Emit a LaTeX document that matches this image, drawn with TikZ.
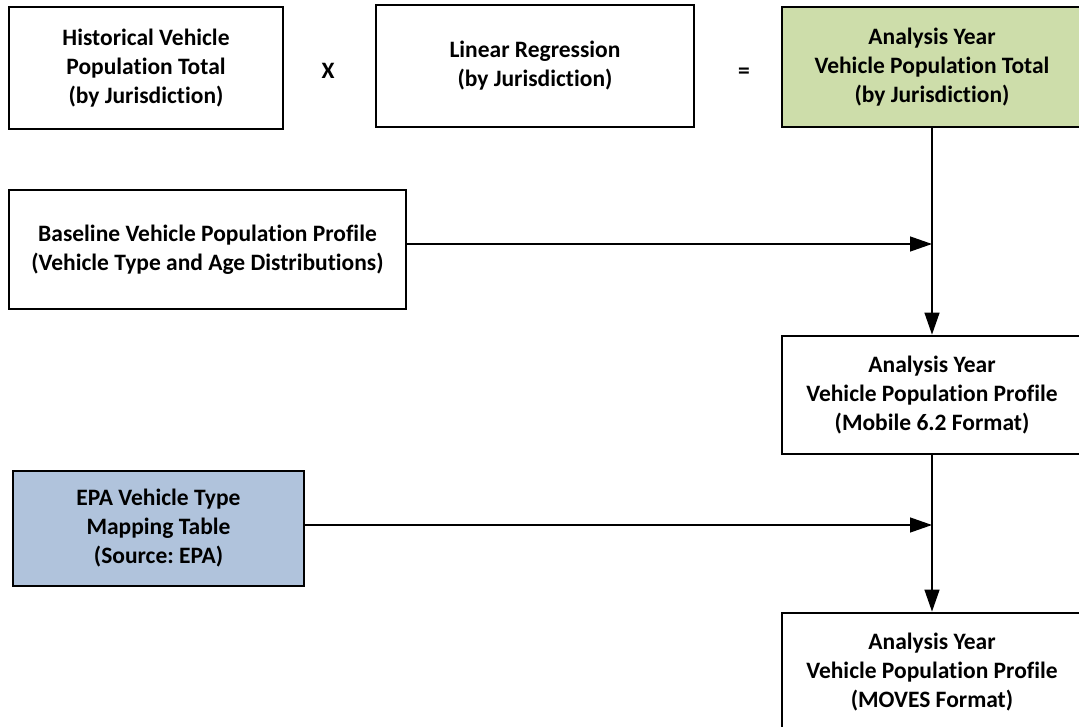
\documentclass[tikz,border=0pt]{standalone}
\usepackage{fontspec}
\setmainfont{Carlito}[Ligatures=NoCommon]
\usetikzlibrary{arrows.meta}
\frenchspacing
\definecolor{totalgreen}{RGB}{205,221,170}
\definecolor{epablue}{RGB}{176,195,220}
\tikzset{
  blk/.style={draw, line width=2.8pt, align=center, inner sep=0pt,
    font=\fontsize{23.5}{29}\selectfont\bfseries},
  flow/.style={line width=1.3pt, -{Triangle[length=22pt,width=15pt]}},
}
\begin{document}
\begin{tikzpicture}[x=1pt,y=-1pt]
		\useasboundingbox (0,0) rectangle (1079,727);
		\node [blk, minimum width=274pt, minimum height=122pt] (hist) at (146,68) {Historical Vehicle\\Population Total\\(by Jurisdiction)};
		\node [font=\fontsize{23.5}{29}\selectfont\bfseries] (times) at (328,71) {X};
		\node [blk, minimum width=318pt, minimum height=122pt] (regr) at (535,66) {Linear Regression\\(by Jurisdiction)};
		\node [font=\fontsize{23.5}{29}\selectfont\bfseries] (equals) at (744,73) {=};
		\node [blk, fill=totalgreen, minimum width=300pt, minimum height=120pt] (total) at (932,67) {Analysis Year\\Vehicle Population Total\\(by Jurisdiction)};
		\node [blk, minimum width=397pt, minimum height=119pt] (base) at (207.5,249.5) {Baseline Vehicle Population Profile\\(Vehicle Type and Age Distributions)};
		\node [blk, minimum width=300pt, minimum height=118pt] (mobile) at (932,395) {Analysis Year\\Vehicle Population Profile\\(Mobile 6.2 Format)};
		\node [blk, fill=epablue, minimum width=291pt, minimum height=115pt] (epa) at (158.5,528.5) {EPA Vehicle Type\\Mapping Table\\(Source: EPA)};
		\node [blk, minimum width=300pt, minimum height=118pt] (moves) at (932,672) {Analysis Year\\Vehicle Population Profile\\(MOVES Format)};
		\draw [flow] (total) -- (mobile);
		\draw [flow] (mobile) -- (moves);
		\draw [flow] ([yshift=5.5pt]base.east) -- ([yshift=5.5pt]base.east -| total.south);
		\draw [flow] ([yshift=3.5pt]epa.east) -- ([yshift=3.5pt]epa.east -| mobile.south);
\end{tikzpicture}
\end{document}
